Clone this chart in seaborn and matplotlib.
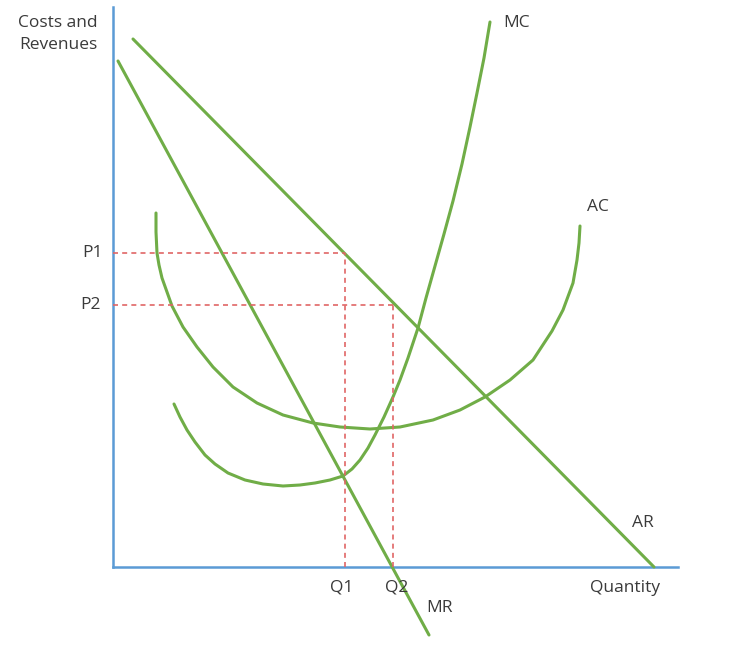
import seaborn as sns
import matplotlib.pyplot as plt
import numpy as np

# Set the style for our plot
sns.set_style("white")
plt.rcParams['font.family'] = ['Open Sans', 'DejaVu Sans']

# Curves (quantity, cost/revenue)
ar_q = [20, 541]
ar_c = [528, 0]

mr_q = [5, 316]
mr_c = [506, -68]

mc_q = [61, 67, 74, 82, 92, 102, 115, 132, 150, 170, 187, 202, 217, 230, 239, 247,
        255, 262, 271, 280, 287, 295, 305, 313, 322, 331, 340, 349, 357, 364, 371, 377]
mc_c = [163, 150, 137, 125, 112, 103, 94, 87, 83, 81, 82, 84, 87, 91, 98, 107,
        119, 132, 150, 170, 187, 209, 239, 269, 301, 333, 366, 403, 440, 474, 509, 545]

ac_q = [43, 43, 44, 46, 49, 54, 59, 70, 84, 100, 120, 144, 170, 200, 227, 257, 287,
        320, 347, 372, 397, 420, 439, 450, 460, 464, 466, 467]
ac_c = [354, 335, 314, 302, 289, 275, 261, 240, 220, 200, 180, 164, 152, 144, 140, 138, 140,
        147, 157, 170, 187, 207, 236, 257, 284, 307, 324, 341]

# Price / quantity levels
p_levels = [314, 262]
q_levels = [232, 280]
p_labels = ['P1', 'P2']
q_labels = ['Q1', 'Q2']

green = '#70AD47'
blue = '#5B9BD5'
red = '#E06666'
txt = '#3A3A3A'

fig = plt.figure(figsize=(7.48, 6.64), dpi=100)
ax = fig.add_axes([0, 0, 1, 1])

for q, c in [(ar_q, ar_c), (mr_q, mr_c), (mc_q, mc_c), (ac_q, ac_c)]:
    sns.lineplot(x=q, y=c, sort=False, estimator=None, color=green, lw=2.2, ax=ax,
                 solid_capstyle='round', solid_joinstyle='round')

# Dashed guides
for p, q in zip(p_levels, q_levels):
    ax.plot([0, q], [p, p], color=red, lw=1.2, ls=(0, (3, 2.5)))
    ax.plot([q, q], [0, p], color=red, lw=1.2, ls=(0, (3, 2.5)))

# Axes as spines through the origin
ax.set_xlim(-113, 635)
ax.set_ylim(-97, 567)
for s in ['top', 'right']:
    ax.spines[s].set_visible(False)
ax.spines['left'].set_position(('data', 0))
ax.spines['bottom'].set_position(('data', 0))
ax.spines['left'].set_bounds(0, 560)
ax.spines['bottom'].set_bounds(0, 565)
for s in ['left', 'bottom']:
    ax.spines[s].set_color(blue)
    ax.spines[s].set_linewidth(1.8)
    ax.spines[s].set_zorder(0.5)
ax.set_xticks([])
ax.set_yticks([])
ax.patch.set_visible(False)

fs = 12.5
ax.text(-55, 533, 'Costs and\nRevenues', ha='center', va='center', fontsize=fs,
        color=txt, linespacing=1.45)
ax.text(-10, p_levels[0], p_labels[0], ha='right', va='center', fontsize=fs, color=txt)
ax.text(-12, p_levels[1], p_labels[1], ha='right', va='center', fontsize=fs, color=txt)
ax.text(q_levels[0] - 3, -20, q_labels[0], ha='center', va='center', fontsize=fs, color=txt)
ax.text(q_levels[1] + 4, -20, q_labels[1], ha='center', va='center', fontsize=fs, color=txt)
ax.text(327, -41, 'MR', ha='center', va='center', fontsize=fs, color=txt)
ax.text(512, -21, 'Quantity', ha='center', va='center', fontsize=fs, color=txt)
ax.text(530, 44, 'AR', ha='center', va='center', fontsize=fs, color=txt)
ax.text(485, 360, 'AC', ha='center', va='center', fontsize=fs, color=txt)
ax.text(404, 544, 'MC', ha='center', va='center', fontsize=fs, color=txt)

fig.savefig('out.png', dpi=100)
